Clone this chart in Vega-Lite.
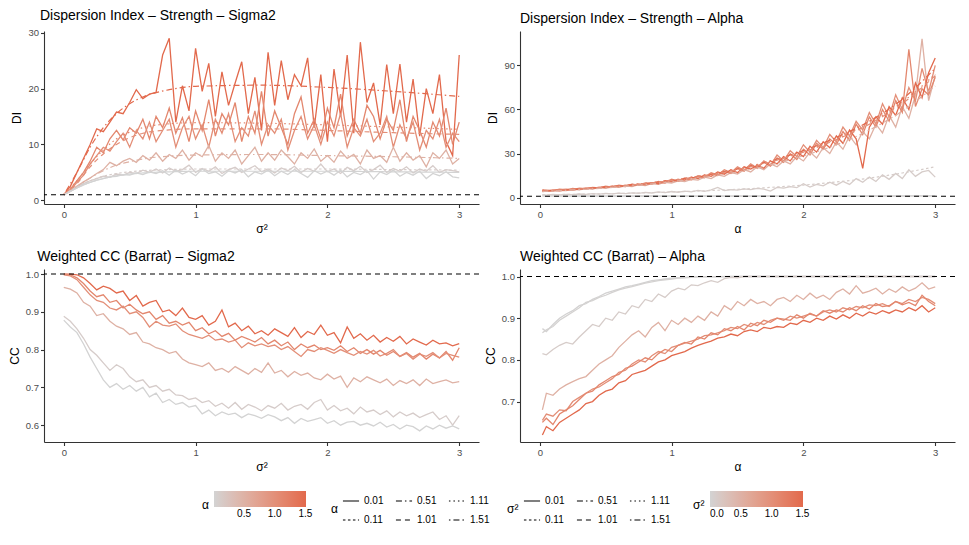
{
  "$schema": "https://vega.github.io/schema/vega-lite/v6.json",
  "padding": {"left": 8, "top": 8, "right": 12, "bottom": 10},
  "background": "white",
  "columns": 2,
  "bounds": "flush",
  "spacing": {"row": 65, "column": 41},
  "resolve": {
    "scale": {"color": "independent", "strokeDash": "independent", "x": "independent", "y": "independent"},
    "legend": {"color": "independent", "strokeDash": "independent"}
  },
  "config": {
    "font": "Liberation Sans",
    "view": {"stroke": null},
    "axis": {
      "grid": false, "domainColor": "#333333", "tickColor": "#333333", "domainWidth": 1.1, "tickWidth": 1.1,
      "tickSize": 3.5, "labelColor": "#4D4D4D", "labelFontSize": 9.5, "labelPadding": 2,
      "titleFontSize": 12, "titleFontWeight": "normal", "titleColor": "black"
    },
    "title": {"fontSize": 14, "fontWeight": "normal", "anchor": "start", "offset": 5, "color": "black"},
    "legend": {"labelFontSize": 10, "labelColor": "black", "titleFontSize": 12, "titleFontWeight": "normal", "titleColor": "black", "labelOverlap": false}
  },
  "datasets": {
    "tl": [
      {"a":1.51,"x":0,"y":1},{"a":1.51,"x":0.05,"y":2.5},{"a":1.51,"x":0.1,"y":5},{"a":1.51,"x":0.15,"y":7.5},{"a":1.51,"x":0.2,"y":10},{"a":1.51,"x":0.25,"y":12.8},{"a":1.51,"x":0.3,"y":12.3},{"a":1.51,"x":0.35,"y":14},{"a":1.51,"x":0.4,"y":15.8},{"a":1.51,"x":0.45,"y":15.5},{"a":1.51,"x":0.5,"y":17.5},{"a":1.51,"x":0.55,"y":19.8},{"a":1.51,"x":0.6,"y":18.2},{"a":1.51,"x":0.65,"y":19},{"a":1.51,"x":0.7,"y":19.3},{"a":1.51,"x":0.75,"y":26},{"a":1.51,"x":0.8,"y":29},{"a":1.51,"x":0.85,"y":14},{"a":1.51,"x":0.9,"y":20.5},{"a":1.51,"x":0.95,"y":16},{"a":1.51,"x":1,"y":27.2},{"a":1.51,"x":1.05,"y":19.5},{"a":1.51,"x":1.1,"y":24.5},{"a":1.51,"x":1.15,"y":15},{"a":1.51,"x":1.2,"y":23},{"a":1.51,"x":1.25,"y":17},{"a":1.51,"x":1.3,"y":21},{"a":1.51,"x":1.35,"y":24.8},{"a":1.51,"x":1.4,"y":15.5},{"a":1.51,"x":1.45,"y":22},{"a":1.51,"x":1.5,"y":12.5},{"a":1.51,"x":1.55,"y":26.5},{"a":1.51,"x":1.6,"y":17},{"a":1.51,"x":1.65,"y":25},{"a":1.51,"x":1.7,"y":18},{"a":1.51,"x":1.75,"y":22.5},{"a":1.51,"x":1.8,"y":20.5},{"a":1.51,"x":1.85,"y":25.5},{"a":1.51,"x":1.9,"y":13},{"a":1.51,"x":1.95,"y":22.5},{"a":1.51,"x":2,"y":10.5},{"a":1.51,"x":2.05,"y":23.5},{"a":1.51,"x":2.1,"y":15},{"a":1.51,"x":2.15,"y":26},{"a":1.51,"x":2.2,"y":12},{"a":1.51,"x":2.25,"y":28.3},{"a":1.51,"x":2.3,"y":17.5},{"a":1.51,"x":2.35,"y":21},{"a":1.51,"x":2.4,"y":13.5},{"a":1.51,"x":2.45,"y":24.3},{"a":1.51,"x":2.5,"y":15.5},{"a":1.51,"x":2.55,"y":24.4},{"a":1.51,"x":2.6,"y":14},{"a":1.51,"x":2.65,"y":21.7},{"a":1.51,"x":2.7,"y":11.5},{"a":1.51,"x":2.75,"y":20},{"a":1.51,"x":2.8,"y":15.5},{"a":1.51,"x":2.85,"y":22.5},{"a":1.51,"x":2.9,"y":10.5},{"a":1.51,"x":2.95,"y":8},{"a":1.51,"x":3,"y":26},
      {"a":1.11,"x":0,"y":1},{"a":1.11,"x":0.05,"y":2},{"a":1.11,"x":0.1,"y":3.5},{"a":1.11,"x":0.15,"y":5},{"a":1.11,"x":0.2,"y":7},{"a":1.11,"x":0.25,"y":9.5},{"a":1.11,"x":0.3,"y":8.5},{"a":1.11,"x":0.35,"y":11},{"a":1.11,"x":0.4,"y":12.5},{"a":1.11,"x":0.45,"y":10.8},{"a":1.11,"x":0.5,"y":13},{"a":1.11,"x":0.55,"y":12},{"a":1.11,"x":0.6,"y":14.5},{"a":1.11,"x":0.65,"y":11},{"a":1.11,"x":0.7,"y":15},{"a":1.11,"x":0.75,"y":13},{"a":1.11,"x":0.8,"y":16.5},{"a":1.11,"x":0.85,"y":12},{"a":1.11,"x":0.9,"y":14.8},{"a":1.11,"x":0.95,"y":10.5},{"a":1.11,"x":1,"y":16},{"a":1.11,"x":1.05,"y":12.5},{"a":1.11,"x":1.1,"y":18},{"a":1.11,"x":1.15,"y":11.5},{"a":1.11,"x":1.2,"y":15.5},{"a":1.11,"x":1.25,"y":13.5},{"a":1.11,"x":1.3,"y":17.5},{"a":1.11,"x":1.35,"y":10.5},{"a":1.11,"x":1.4,"y":15},{"a":1.11,"x":1.45,"y":12},{"a":1.11,"x":1.5,"y":19.5},{"a":1.11,"x":1.55,"y":11.5},{"a":1.11,"x":1.6,"y":16},{"a":1.11,"x":1.65,"y":13},{"a":1.11,"x":1.7,"y":10},{"a":1.11,"x":1.75,"y":15.5},{"a":1.11,"x":1.8,"y":18.5},{"a":1.11,"x":1.85,"y":12},{"a":1.11,"x":1.9,"y":14.5},{"a":1.11,"x":1.95,"y":11},{"a":1.11,"x":2,"y":16.5},{"a":1.11,"x":2.05,"y":13},{"a":1.11,"x":2.1,"y":19},{"a":1.11,"x":2.15,"y":11.5},{"a":1.11,"x":2.2,"y":14.5},{"a":1.11,"x":2.25,"y":12},{"a":1.11,"x":2.3,"y":17},{"a":1.11,"x":2.35,"y":15},{"a":1.11,"x":2.4,"y":11},{"a":1.11,"x":2.45,"y":14.5},{"a":1.11,"x":2.5,"y":12.5},{"a":1.11,"x":2.55,"y":18},{"a":1.11,"x":2.6,"y":10.5},{"a":1.11,"x":2.65,"y":15},{"a":1.11,"x":2.7,"y":12.5},{"a":1.11,"x":2.75,"y":9.5},{"a":1.11,"x":2.8,"y":14},{"a":1.11,"x":2.85,"y":11.5},{"a":1.11,"x":2.9,"y":16.5},{"a":1.11,"x":2.95,"y":10},{"a":1.11,"x":3,"y":14},
      {"a":1.01,"x":0,"y":1},{"a":1.01,"x":0.05,"y":1.8},{"a":1.01,"x":0.1,"y":3.2},{"a":1.01,"x":0.15,"y":4.5},{"a":1.01,"x":0.2,"y":6.5},{"a":1.01,"x":0.25,"y":8},{"a":1.01,"x":0.3,"y":9.5},{"a":1.01,"x":0.35,"y":8.8},{"a":1.01,"x":0.4,"y":10.5},{"a":1.01,"x":0.45,"y":12},{"a":1.01,"x":0.5,"y":9.5},{"a":1.01,"x":0.55,"y":12.5},{"a":1.01,"x":0.6,"y":11},{"a":1.01,"x":0.65,"y":14},{"a":1.01,"x":0.7,"y":10.5},{"a":1.01,"x":0.75,"y":12.5},{"a":1.01,"x":0.8,"y":14.5},{"a":1.01,"x":0.85,"y":9.5},{"a":1.01,"x":0.9,"y":13},{"a":1.01,"x":0.95,"y":15},{"a":1.01,"x":1,"y":11},{"a":1.01,"x":1.05,"y":13.5},{"a":1.01,"x":1.1,"y":9.5},{"a":1.01,"x":1.15,"y":14.5},{"a":1.01,"x":1.2,"y":12},{"a":1.01,"x":1.25,"y":15.5},{"a":1.01,"x":1.3,"y":10.5},{"a":1.01,"x":1.35,"y":13},{"a":1.01,"x":1.4,"y":11.5},{"a":1.01,"x":1.45,"y":16},{"a":1.01,"x":1.5,"y":10},{"a":1.01,"x":1.55,"y":13.5},{"a":1.01,"x":1.6,"y":12},{"a":1.01,"x":1.65,"y":14.5},{"a":1.01,"x":1.7,"y":9},{"a":1.01,"x":1.75,"y":12.5},{"a":1.01,"x":1.8,"y":15},{"a":1.01,"x":1.85,"y":11},{"a":1.01,"x":1.9,"y":13.5},{"a":1.01,"x":1.95,"y":10},{"a":1.01,"x":2,"y":14},{"a":1.01,"x":2.05,"y":11.5},{"a":1.01,"x":2.1,"y":15.5},{"a":1.01,"x":2.15,"y":9.5},{"a":1.01,"x":2.2,"y":13},{"a":1.01,"x":2.25,"y":11.5},{"a":1.01,"x":2.3,"y":14.5},{"a":1.01,"x":2.35,"y":10.5},{"a":1.01,"x":2.4,"y":12},{"a":1.01,"x":2.45,"y":15},{"a":1.01,"x":2.5,"y":9.5},{"a":1.01,"x":2.55,"y":13.5},{"a":1.01,"x":2.6,"y":11},{"a":1.01,"x":2.65,"y":14},{"a":1.01,"x":2.7,"y":9},{"a":1.01,"x":2.75,"y":12.5},{"a":1.01,"x":2.8,"y":11},{"a":1.01,"x":2.85,"y":14.5},{"a":1.01,"x":2.9,"y":9.5},{"a":1.01,"x":2.95,"y":12},{"a":1.01,"x":3,"y":10.5},
      {"a":0.51,"x":0,"y":1},{"a":0.51,"x":0.05,"y":1.6},{"a":0.51,"x":0.1,"y":2.5},{"a":0.51,"x":0.15,"y":3.3},{"a":0.51,"x":0.2,"y":4},{"a":0.51,"x":0.25,"y":4.8},{"a":0.51,"x":0.3,"y":5.5},{"a":0.51,"x":0.35,"y":6.8},{"a":0.51,"x":0.4,"y":6.2},{"a":0.51,"x":0.45,"y":7},{"a":0.51,"x":0.5,"y":7.5},{"a":0.51,"x":0.55,"y":6.8},{"a":0.51,"x":0.6,"y":8},{"a":0.51,"x":0.65,"y":7.2},{"a":0.51,"x":0.7,"y":8.5},{"a":0.51,"x":0.75,"y":7},{"a":0.51,"x":0.8,"y":8.2},{"a":0.51,"x":0.85,"y":7.5},{"a":0.51,"x":0.9,"y":9},{"a":0.51,"x":0.95,"y":7.2},{"a":0.51,"x":1,"y":8.5},{"a":0.51,"x":1.05,"y":7.8},{"a":0.51,"x":1.1,"y":9.8},{"a":0.51,"x":1.15,"y":7},{"a":0.51,"x":1.2,"y":8.5},{"a":0.51,"x":1.25,"y":7.5},{"a":0.51,"x":1.3,"y":9},{"a":0.51,"x":1.35,"y":6.5},{"a":0.51,"x":1.4,"y":8},{"a":0.51,"x":1.45,"y":9.5},{"a":0.51,"x":1.5,"y":7},{"a":0.51,"x":1.55,"y":8.5},{"a":0.51,"x":1.6,"y":7.2},{"a":0.51,"x":1.65,"y":9},{"a":0.51,"x":1.7,"y":7.8},{"a":0.51,"x":1.75,"y":6.5},{"a":0.51,"x":1.8,"y":8.5},{"a":0.51,"x":1.85,"y":7.5},{"a":0.51,"x":1.9,"y":9.2},{"a":0.51,"x":1.95,"y":7},{"a":0.51,"x":2,"y":8},{"a":0.51,"x":2.05,"y":6.8},{"a":0.51,"x":2.1,"y":8.8},{"a":0.51,"x":2.15,"y":7.5},{"a":0.51,"x":2.2,"y":8.2},{"a":0.51,"x":2.25,"y":6.5},{"a":0.51,"x":2.3,"y":9},{"a":0.51,"x":2.35,"y":7.5},{"a":0.51,"x":2.4,"y":8},{"a":0.51,"x":2.45,"y":6.8},{"a":0.51,"x":2.5,"y":9.5},{"a":0.51,"x":2.55,"y":7},{"a":0.51,"x":2.6,"y":8.5},{"a":0.51,"x":2.65,"y":7.2},{"a":0.51,"x":2.7,"y":8},{"a":0.51,"x":2.75,"y":6},{"a":0.51,"x":2.8,"y":8.5},{"a":0.51,"x":2.85,"y":7.5},{"a":0.51,"x":2.9,"y":9},{"a":0.51,"x":2.95,"y":6.5},{"a":0.51,"x":3,"y":7.5},
      {"a":0.11,"x":0,"y":1},{"a":0.11,"x":0.05,"y":1.7},{"a":0.11,"x":0.1,"y":2.4},{"a":0.11,"x":0.15,"y":3},{"a":0.11,"x":0.2,"y":3.5},{"a":0.11,"x":0.25,"y":3.9},{"a":0.11,"x":0.3,"y":4.3},{"a":0.11,"x":0.35,"y":4.1},{"a":0.11,"x":0.4,"y":4.7},{"a":0.11,"x":0.45,"y":4.5},{"a":0.11,"x":0.5,"y":5},{"a":0.11,"x":0.55,"y":4.8},{"a":0.11,"x":0.6,"y":5.4},{"a":0.11,"x":0.65,"y":5},{"a":0.11,"x":0.7,"y":5.6},{"a":0.11,"x":0.75,"y":4.9},{"a":0.11,"x":0.8,"y":5.8},{"a":0.11,"x":0.85,"y":5.2},{"a":0.11,"x":0.9,"y":5.5},{"a":0.11,"x":0.95,"y":6.3},{"a":0.11,"x":1,"y":5},{"a":0.11,"x":1.05,"y":5.7},{"a":0.11,"x":1.1,"y":5.2},{"a":0.11,"x":1.15,"y":6},{"a":0.11,"x":1.2,"y":4.8},{"a":0.11,"x":1.25,"y":5.5},{"a":0.11,"x":1.3,"y":5.9},{"a":0.11,"x":1.35,"y":5},{"a":0.11,"x":1.4,"y":5.6},{"a":0.11,"x":1.45,"y":6.2},{"a":0.11,"x":1.5,"y":5.1},{"a":0.11,"x":1.55,"y":5.6},{"a":0.11,"x":1.6,"y":4.9},{"a":0.11,"x":1.65,"y":5.8},{"a":0.11,"x":1.7,"y":5.3},{"a":0.11,"x":1.75,"y":6.1},{"a":0.11,"x":1.8,"y":5},{"a":0.11,"x":1.85,"y":5.7},{"a":0.11,"x":1.9,"y":5.2},{"a":0.11,"x":1.95,"y":6.5},{"a":0.11,"x":2,"y":5.1},{"a":0.11,"x":2.05,"y":5.6},{"a":0.11,"x":2.1,"y":4.8},{"a":0.11,"x":2.15,"y":5.9},{"a":0.11,"x":2.2,"y":5.3},{"a":0.11,"x":2.25,"y":6.1},{"a":0.11,"x":2.3,"y":5},{"a":0.11,"x":2.35,"y":5.5},{"a":0.11,"x":2.4,"y":6.3},{"a":0.11,"x":2.45,"y":5},{"a":0.11,"x":2.5,"y":5.7},{"a":0.11,"x":2.55,"y":5.2},{"a":0.11,"x":2.6,"y":6},{"a":0.11,"x":2.65,"y":4.9},{"a":0.11,"x":2.7,"y":5.6},{"a":0.11,"x":2.75,"y":5.2},{"a":0.11,"x":2.8,"y":6.2},{"a":0.11,"x":2.85,"y":5},{"a":0.11,"x":2.9,"y":5.5},{"a":0.11,"x":2.95,"y":5.3},{"a":0.11,"x":3,"y":5.1},
      {"a":0.01,"x":0,"y":1},{"a":0.01,"x":0.05,"y":1.6},{"a":0.01,"x":0.1,"y":2.2},{"a":0.01,"x":0.15,"y":2.8},{"a":0.01,"x":0.2,"y":3.2},{"a":0.01,"x":0.25,"y":3.6},{"a":0.01,"x":0.3,"y":3.9},{"a":0.01,"x":0.35,"y":4.2},{"a":0.01,"x":0.4,"y":4.3},{"a":0.01,"x":0.45,"y":4.6},{"a":0.01,"x":0.5,"y":4.5},{"a":0.01,"x":0.55,"y":4.9},{"a":0.01,"x":0.6,"y":4.6},{"a":0.01,"x":0.65,"y":5.1},{"a":0.01,"x":0.7,"y":4.8},{"a":0.01,"x":0.75,"y":5.3},{"a":0.01,"x":0.8,"y":4.5},{"a":0.01,"x":0.85,"y":5.4},{"a":0.01,"x":0.9,"y":4.7},{"a":0.01,"x":0.95,"y":5.2},{"a":0.01,"x":1,"y":4.4},{"a":0.01,"x":1.05,"y":5.6},{"a":0.01,"x":1.1,"y":4.8},{"a":0.01,"x":1.15,"y":5.1},{"a":0.01,"x":1.2,"y":4.3},{"a":0.01,"x":1.25,"y":5.3},{"a":0.01,"x":1.3,"y":4.9},{"a":0.01,"x":1.35,"y":5.5},{"a":0.01,"x":1.4,"y":4.2},{"a":0.01,"x":1.45,"y":5.1},{"a":0.01,"x":1.5,"y":4.7},{"a":0.01,"x":1.55,"y":5.4},{"a":0.01,"x":1.6,"y":4.4},{"a":0.01,"x":1.65,"y":5.2},{"a":0.01,"x":1.7,"y":4.6},{"a":0.01,"x":1.75,"y":5.5},{"a":0.01,"x":1.8,"y":4.8},{"a":0.01,"x":1.85,"y":4.1},{"a":0.01,"x":1.9,"y":5.3},{"a":0.01,"x":1.95,"y":4.7},{"a":0.01,"x":2,"y":5.2},{"a":0.01,"x":2.05,"y":4.5},{"a":0.01,"x":2.1,"y":5.4},{"a":0.01,"x":2.15,"y":4.2},{"a":0.01,"x":2.2,"y":5},{"a":0.01,"x":2.25,"y":4.6},{"a":0.01,"x":2.3,"y":5.3},{"a":0.01,"x":2.35,"y":3.8},{"a":0.01,"x":2.4,"y":5.1},{"a":0.01,"x":2.45,"y":4.6},{"a":0.01,"x":2.5,"y":5.4},{"a":0.01,"x":2.55,"y":4.3},{"a":0.01,"x":2.6,"y":5},{"a":0.01,"x":2.65,"y":4.5},{"a":0.01,"x":2.7,"y":5.2},{"a":0.01,"x":2.75,"y":3.9},{"a":0.01,"x":2.8,"y":4.8},{"a":0.01,"x":2.85,"y":4.4},{"a":0.01,"x":2.9,"y":5.1},{"a":0.01,"x":2.95,"y":4.2},{"a":0.01,"x":3,"y":4}
    ],
    "tls": [
      {"a":1.51,"k":"1.51","x":0,"y":1},{"a":1.51,"k":"1.51","x":0.1,"y":5},{"a":1.51,"k":"1.51","x":0.2,"y":9.5},{"a":1.51,"k":"1.51","x":0.3,"y":13},{"a":1.51,"k":"1.51","x":0.4,"y":15.5},{"a":1.51,"k":"1.51","x":0.5,"y":17.3},{"a":1.51,"k":"1.51","x":0.6,"y":18.5},{"a":1.51,"k":"1.51","x":0.8,"y":19.8},{"a":1.51,"k":"1.51","x":1,"y":20.4},{"a":1.51,"k":"1.51","x":1.5,"y":20.6},{"a":1.51,"k":"1.51","x":2,"y":20.2},{"a":1.51,"k":"1.51","x":2.5,"y":19.5},{"a":1.51,"k":"1.51","x":3,"y":18.6},
      {"a":1.11,"k":"1.11","x":0,"y":1},{"a":1.11,"k":"1.11","x":0.1,"y":3.5},{"a":1.11,"k":"1.11","x":0.2,"y":6.5},{"a":1.11,"k":"1.11","x":0.3,"y":9},{"a":1.11,"k":"1.11","x":0.4,"y":11},{"a":1.11,"k":"1.11","x":0.5,"y":12.2},{"a":1.11,"k":"1.11","x":0.6,"y":13},{"a":1.11,"k":"1.11","x":0.8,"y":13.7},{"a":1.11,"k":"1.11","x":1,"y":13.9},{"a":1.11,"k":"1.11","x":1.5,"y":13.8},{"a":1.11,"k":"1.11","x":2,"y":13.5},{"a":1.11,"k":"1.11","x":2.5,"y":13.1},{"a":1.11,"k":"1.11","x":3,"y":12.7},
      {"a":1.01,"k":"1.01","x":0,"y":1},{"a":1.01,"k":"1.01","x":0.1,"y":3},{"a":1.01,"k":"1.01","x":0.2,"y":6},{"a":1.01,"k":"1.01","x":0.3,"y":8.3},{"a":1.01,"k":"1.01","x":0.4,"y":10},{"a":1.01,"k":"1.01","x":0.5,"y":11.2},{"a":1.01,"k":"1.01","x":0.6,"y":12},{"a":1.01,"k":"1.01","x":0.8,"y":12.6},{"a":1.01,"k":"1.01","x":1,"y":12.8},{"a":1.01,"k":"1.01","x":1.5,"y":12.8},{"a":1.01,"k":"1.01","x":2,"y":12.5},{"a":1.01,"k":"1.01","x":2.5,"y":12.1},{"a":1.01,"k":"1.01","x":3,"y":11.8},
      {"a":0.51,"k":"0.51","x":0,"y":1},{"a":0.51,"k":"0.51","x":0.1,"y":2.5},{"a":0.51,"k":"0.51","x":0.2,"y":4},{"a":0.51,"k":"0.51","x":0.3,"y":5.3},{"a":0.51,"k":"0.51","x":0.4,"y":6.3},{"a":0.51,"k":"0.51","x":0.5,"y":6.9},{"a":0.51,"k":"0.51","x":0.6,"y":7.4},{"a":0.51,"k":"0.51","x":0.8,"y":7.9},{"a":0.51,"k":"0.51","x":1,"y":8.1},{"a":0.51,"k":"0.51","x":1.5,"y":8.2},{"a":0.51,"k":"0.51","x":2,"y":8},{"a":0.51,"k":"0.51","x":2.5,"y":7.8},{"a":0.51,"k":"0.51","x":3,"y":7.5},
      {"a":0.11,"k":"0.11","x":0,"y":1},{"a":0.11,"k":"0.11","x":0.1,"y":2.4},{"a":0.11,"k":"0.11","x":0.2,"y":3.5},{"a":0.11,"k":"0.11","x":0.3,"y":4.3},{"a":0.11,"k":"0.11","x":0.4,"y":4.8},{"a":0.11,"k":"0.11","x":0.5,"y":5.1},{"a":0.11,"k":"0.11","x":0.6,"y":5.3},{"a":0.11,"k":"0.11","x":0.8,"y":5.5},{"a":0.11,"k":"0.11","x":1,"y":5.6},{"a":0.11,"k":"0.11","x":1.5,"y":5.6},{"a":0.11,"k":"0.11","x":2,"y":5.6},{"a":0.11,"k":"0.11","x":2.5,"y":5.5},{"a":0.11,"k":"0.11","x":3,"y":5.4},
      {"a":0.01,"k":"0.01","x":0,"y":1},{"a":0.01,"k":"0.01","x":0.1,"y":2.2},{"a":0.01,"k":"0.01","x":0.2,"y":3.2},{"a":0.01,"k":"0.01","x":0.3,"y":3.9},{"a":0.01,"k":"0.01","x":0.4,"y":4.4},{"a":0.01,"k":"0.01","x":0.5,"y":4.7},{"a":0.01,"k":"0.01","x":0.6,"y":4.9},{"a":0.01,"k":"0.01","x":0.8,"y":5.1},{"a":0.01,"k":"0.01","x":1,"y":5.2},{"a":0.01,"k":"0.01","x":1.5,"y":5.2},{"a":0.01,"k":"0.01","x":2,"y":5.2},{"a":0.01,"k":"0.01","x":2.5,"y":5.1},{"a":0.01,"k":"0.01","x":3,"y":5}
    ],
    "tr": [
      {"a":0.01,"x":0.02,"y":1.3},{"a":0.01,"x":0.05,"y":1.2},{"a":0.01,"x":0.1,"y":1.25},{"a":0.01,"x":0.15,"y":1.15},{"a":0.01,"x":0.2,"y":1.2},{"a":0.01,"x":0.25,"y":1.1},{"a":0.01,"x":0.3,"y":1.2},{"a":0.01,"x":0.35,"y":1.15},{"a":0.01,"x":0.4,"y":1.1},{"a":0.01,"x":0.45,"y":1.2},{"a":0.01,"x":0.5,"y":1.1},{"a":0.01,"x":0.55,"y":1.15},{"a":0.01,"x":0.6,"y":1.05},{"a":0.01,"x":0.65,"y":1.15},{"a":0.01,"x":0.7,"y":1.1},{"a":0.01,"x":0.75,"y":1.2},{"a":0.01,"x":0.8,"y":1.1},{"a":0.01,"x":0.85,"y":1.15},{"a":0.01,"x":0.9,"y":1.05},{"a":0.01,"x":0.95,"y":1.1},{"a":0.01,"x":1,"y":1.2},{"a":0.01,"x":1.05,"y":1.1},{"a":0.01,"x":1.1,"y":1.15},{"a":0.01,"x":1.15,"y":1.05},{"a":0.01,"x":1.2,"y":1.1},{"a":0.01,"x":1.25,"y":1.2},{"a":0.01,"x":1.3,"y":1.1},{"a":0.01,"x":1.35,"y":1.15},{"a":0.01,"x":1.4,"y":1.05},{"a":0.01,"x":1.45,"y":1.1},{"a":0.01,"x":1.5,"y":1.2},{"a":0.01,"x":1.55,"y":1.1},{"a":0.01,"x":1.6,"y":1.05},{"a":0.01,"x":1.65,"y":1.15},{"a":0.01,"x":1.7,"y":1.1},{"a":0.01,"x":1.75,"y":1.2},{"a":0.01,"x":1.8,"y":1.1},{"a":0.01,"x":1.85,"y":1.05},{"a":0.01,"x":1.9,"y":1.15},{"a":0.01,"x":1.95,"y":1.1},{"a":0.01,"x":2,"y":1.2},{"a":0.01,"x":2.05,"y":1.1},{"a":0.01,"x":2.1,"y":1.15},{"a":0.01,"x":2.15,"y":1.05},{"a":0.01,"x":2.2,"y":1.1},{"a":0.01,"x":2.25,"y":1.2},{"a":0.01,"x":2.3,"y":1.1},{"a":0.01,"x":2.35,"y":1.15},{"a":0.01,"x":2.4,"y":1.05},{"a":0.01,"x":2.45,"y":1.1},{"a":0.01,"x":2.5,"y":1.2},{"a":0.01,"x":2.55,"y":1.15},{"a":0.01,"x":2.6,"y":1.1},{"a":0.01,"x":2.65,"y":1.2},{"a":0.01,"x":2.7,"y":1.1},{"a":0.01,"x":2.75,"y":1.25},{"a":0.01,"x":2.8,"y":1.15},{"a":0.01,"x":2.85,"y":1.3},{"a":0.01,"x":2.9,"y":1.2},{"a":0.01,"x":2.95,"y":1.35},{"a":0.01,"x":3,"y":1.3},
      {"a":0.11,"x":0.02,"y":2},{"a":0.11,"x":0.05,"y":1.8},{"a":0.11,"x":0.1,"y":2.2},{"a":0.11,"x":0.15,"y":1.9},{"a":0.11,"x":0.2,"y":2.3},{"a":0.11,"x":0.25,"y":2.1},{"a":0.11,"x":0.3,"y":2.5},{"a":0.11,"x":0.35,"y":2.2},{"a":0.11,"x":0.4,"y":2.7},{"a":0.11,"x":0.45,"y":2.4},{"a":0.11,"x":0.5,"y":2.9},{"a":0.11,"x":0.55,"y":2.6},{"a":0.11,"x":0.6,"y":3.1},{"a":0.11,"x":0.65,"y":2.8},{"a":0.11,"x":0.7,"y":3.3},{"a":0.11,"x":0.75,"y":3},{"a":0.11,"x":0.8,"y":3.6},{"a":0.11,"x":0.85,"y":3.2},{"a":0.11,"x":0.9,"y":3.9},{"a":0.11,"x":0.95,"y":3.4},{"a":0.11,"x":1,"y":4.2},{"a":0.11,"x":1.05,"y":3.7},{"a":0.11,"x":1.1,"y":4.5},{"a":0.11,"x":1.15,"y":4},{"a":0.11,"x":1.2,"y":4.9},{"a":0.11,"x":1.25,"y":4.3},{"a":0.11,"x":1.3,"y":5.3},{"a":0.11,"x":1.35,"y":7},{"a":0.11,"x":1.4,"y":4.8},{"a":0.11,"x":1.45,"y":5.5},{"a":0.11,"x":1.5,"y":5.2},{"a":0.11,"x":1.55,"y":6},{"a":0.11,"x":1.6,"y":5.5},{"a":0.11,"x":1.65,"y":6.3},{"a":0.11,"x":1.7,"y":5.8},{"a":0.11,"x":1.75,"y":4.5},{"a":0.11,"x":1.8,"y":7},{"a":0.11,"x":1.85,"y":6.5},{"a":0.11,"x":1.9,"y":7.5},{"a":0.11,"x":1.95,"y":6.8},{"a":0.11,"x":2,"y":9.5},{"a":0.11,"x":2.05,"y":7.2},{"a":0.11,"x":2.1,"y":9},{"a":0.11,"x":2.15,"y":8},{"a":0.11,"x":2.2,"y":10.5},{"a":0.11,"x":2.25,"y":8.5},{"a":0.11,"x":2.3,"y":11},{"a":0.11,"x":2.35,"y":9},{"a":0.11,"x":2.4,"y":13},{"a":0.11,"x":2.45,"y":10.5},{"a":0.11,"x":2.5,"y":14},{"a":0.11,"x":2.55,"y":11},{"a":0.11,"x":2.6,"y":15.5},{"a":0.11,"x":2.65,"y":12.5},{"a":0.11,"x":2.7,"y":16.5},{"a":0.11,"x":2.75,"y":13},{"a":0.11,"x":2.8,"y":19},{"a":0.11,"x":2.85,"y":14.5},{"a":0.11,"x":2.9,"y":17.5},{"a":0.11,"x":2.95,"y":18.5},{"a":0.11,"x":3,"y":14},
      {"a":0.51,"x":0.02,"y":4},{"a":0.51,"x":0.05,"y":4.6},{"a":0.51,"x":0.1,"y":4.3},{"a":0.51,"x":0.15,"y":5},{"a":0.51,"x":0.2,"y":4.8},{"a":0.51,"x":0.25,"y":5.6},{"a":0.51,"x":0.3,"y":5.3},{"a":0.51,"x":0.35,"y":6.2},{"a":0.51,"x":0.4,"y":5.8},{"a":0.51,"x":0.45,"y":6.8},{"a":0.51,"x":0.5,"y":6.4},{"a":0.51,"x":0.55,"y":7.4},{"a":0.51,"x":0.6,"y":7},{"a":0.51,"x":0.65,"y":8},{"a":0.51,"x":0.7,"y":7.6},{"a":0.51,"x":0.75,"y":8.8},{"a":0.51,"x":0.8,"y":8.3},{"a":0.51,"x":0.85,"y":9.6},{"a":0.51,"x":0.9,"y":9},{"a":0.51,"x":0.95,"y":10.5},{"a":0.51,"x":1,"y":10},{"a":0.51,"x":1.05,"y":11.5},{"a":0.51,"x":1.1,"y":11},{"a":0.51,"x":1.15,"y":12.5},{"a":0.51,"x":1.2,"y":12},{"a":0.51,"x":1.25,"y":14},{"a":0.51,"x":1.3,"y":13},{"a":0.51,"x":1.35,"y":15.5},{"a":0.51,"x":1.4,"y":14.5},{"a":0.51,"x":1.45,"y":17},{"a":0.51,"x":1.5,"y":16},{"a":0.51,"x":1.55,"y":19},{"a":0.51,"x":1.6,"y":17.5},{"a":0.51,"x":1.65,"y":21},{"a":0.51,"x":1.7,"y":19},{"a":0.51,"x":1.75,"y":23},{"a":0.51,"x":1.8,"y":21},{"a":0.51,"x":1.85,"y":25},{"a":0.51,"x":1.9,"y":23},{"a":0.51,"x":1.95,"y":28},{"a":0.51,"x":2,"y":25},{"a":0.51,"x":2.05,"y":31},{"a":0.51,"x":2.1,"y":27},{"a":0.51,"x":2.15,"y":34},{"a":0.51,"x":2.2,"y":30},{"a":0.51,"x":2.25,"y":38},{"a":0.51,"x":2.3,"y":33},{"a":0.51,"x":2.35,"y":42},{"a":0.51,"x":2.4,"y":36},{"a":0.51,"x":2.45,"y":45},{"a":0.51,"x":2.5,"y":40},{"a":0.51,"x":2.55,"y":50},{"a":0.51,"x":2.6,"y":44},{"a":0.51,"x":2.65,"y":56},{"a":0.51,"x":2.7,"y":48},{"a":0.51,"x":2.75,"y":62},{"a":0.51,"x":2.8,"y":54},{"a":0.51,"x":2.85,"y":70},{"a":0.51,"x":2.9,"y":108},{"a":0.51,"x":2.95,"y":66},{"a":0.51,"x":3,"y":83},
      {"a":1.01,"x":0.02,"y":4.5},{"a":1.01,"x":0.05,"y":5.2},{"a":1.01,"x":0.1,"y":5},{"a":1.01,"x":0.15,"y":5.5},{"a":1.01,"x":0.2,"y":5.8},{"a":1.01,"x":0.25,"y":5.4},{"a":1.01,"x":0.3,"y":6.5},{"a":1.01,"x":0.35,"y":6.2},{"a":1.01,"x":0.4,"y":7},{"a":1.01,"x":0.45,"y":6.6},{"a":1.01,"x":0.5,"y":7.8},{"a":1.01,"x":0.55,"y":7.2},{"a":1.01,"x":0.6,"y":8.5},{"a":1.01,"x":0.65,"y":7.8},{"a":1.01,"x":0.7,"y":9.2},{"a":1.01,"x":0.75,"y":8.6},{"a":1.01,"x":0.8,"y":10},{"a":1.01,"x":0.85,"y":9.3},{"a":1.01,"x":0.9,"y":11},{"a":1.01,"x":0.95,"y":10.2},{"a":1.01,"x":1,"y":12.5},{"a":1.01,"x":1.05,"y":11.5},{"a":1.01,"x":1.1,"y":13.5},{"a":1.01,"x":1.15,"y":12.5},{"a":1.01,"x":1.2,"y":15},{"a":1.01,"x":1.25,"y":14},{"a":1.01,"x":1.3,"y":17},{"a":1.01,"x":1.35,"y":15.5},{"a":1.01,"x":1.4,"y":19},{"a":1.01,"x":1.45,"y":17},{"a":1.01,"x":1.5,"y":21},{"a":1.01,"x":1.55,"y":18.5},{"a":1.01,"x":1.6,"y":23},{"a":1.01,"x":1.65,"y":20},{"a":1.01,"x":1.7,"y":25},{"a":1.01,"x":1.75,"y":22},{"a":1.01,"x":1.8,"y":29},{"a":1.01,"x":1.85,"y":25},{"a":1.01,"x":1.9,"y":32},{"a":1.01,"x":1.95,"y":28},{"a":1.01,"x":2,"y":36},{"a":1.01,"x":2.05,"y":31},{"a":1.01,"x":2.1,"y":39},{"a":1.01,"x":2.15,"y":34},{"a":1.01,"x":2.2,"y":43},{"a":1.01,"x":2.25,"y":38},{"a":1.01,"x":2.3,"y":48},{"a":1.01,"x":2.35,"y":42},{"a":1.01,"x":2.4,"y":52},{"a":1.01,"x":2.45,"y":46},{"a":1.01,"x":2.5,"y":58},{"a":1.01,"x":2.55,"y":50},{"a":1.01,"x":2.6,"y":64},{"a":1.01,"x":2.65,"y":55},{"a":1.01,"x":2.7,"y":70},{"a":1.01,"x":2.75,"y":60},{"a":1.01,"x":2.8,"y":75},{"a":1.01,"x":2.85,"y":66},{"a":1.01,"x":2.9,"y":88},{"a":1.01,"x":2.95,"y":72},{"a":1.01,"x":3,"y":90},
      {"a":1.11,"x":0.02,"y":5.5},{"a":1.11,"x":0.05,"y":5},{"a":1.11,"x":0.1,"y":4.8},{"a":1.11,"x":0.15,"y":5.8},{"a":1.11,"x":0.2,"y":5.2},{"a":1.11,"x":0.25,"y":6.3},{"a":1.11,"x":0.3,"y":5.6},{"a":1.11,"x":0.35,"y":6.6},{"a":1.11,"x":0.4,"y":6.2},{"a":1.11,"x":0.45,"y":7.2},{"a":1.11,"x":0.5,"y":6.8},{"a":1.11,"x":0.55,"y":8},{"a":1.11,"x":0.6,"y":7.3},{"a":1.11,"x":0.65,"y":8.5},{"a":1.11,"x":0.7,"y":8},{"a":1.11,"x":0.75,"y":9.3},{"a":1.11,"x":0.8,"y":8.8},{"a":1.11,"x":0.85,"y":9.5},{"a":1.11,"x":0.9,"y":10.5},{"a":1.11,"x":0.95,"y":10},{"a":1.11,"x":1,"y":12},{"a":1.11,"x":1.05,"y":11.2},{"a":1.11,"x":1.1,"y":13},{"a":1.11,"x":1.15,"y":12.2},{"a":1.11,"x":1.2,"y":14.5},{"a":1.11,"x":1.25,"y":13.5},{"a":1.11,"x":1.3,"y":16},{"a":1.11,"x":1.35,"y":15},{"a":1.11,"x":1.4,"y":18},{"a":1.11,"x":1.45,"y":16.5},{"a":1.11,"x":1.5,"y":20},{"a":1.11,"x":1.55,"y":18},{"a":1.11,"x":1.6,"y":22},{"a":1.11,"x":1.65,"y":20.5},{"a":1.11,"x":1.7,"y":24},{"a":1.11,"x":1.75,"y":21.5},{"a":1.11,"x":1.8,"y":27},{"a":1.11,"x":1.85,"y":24},{"a":1.11,"x":1.9,"y":30},{"a":1.11,"x":1.95,"y":26},{"a":1.11,"x":2,"y":33},{"a":1.11,"x":2.05,"y":29},{"a":1.11,"x":2.1,"y":37},{"a":1.11,"x":2.15,"y":33},{"a":1.11,"x":2.2,"y":40},{"a":1.11,"x":2.25,"y":36},{"a":1.11,"x":2.3,"y":45},{"a":1.11,"x":2.35,"y":39},{"a":1.11,"x":2.4,"y":50},{"a":1.11,"x":2.45,"y":43},{"a":1.11,"x":2.5,"y":55},{"a":1.11,"x":2.55,"y":48},{"a":1.11,"x":2.6,"y":60},{"a":1.11,"x":2.65,"y":52},{"a":1.11,"x":2.7,"y":66},{"a":1.11,"x":2.75,"y":58},{"a":1.11,"x":2.8,"y":101},{"a":1.11,"x":2.85,"y":62},{"a":1.11,"x":2.9,"y":74},{"a":1.11,"x":2.95,"y":70},{"a":1.11,"x":3,"y":82},
      {"a":1.51,"x":0.02,"y":5},{"a":1.51,"x":0.05,"y":4.5},{"a":1.51,"x":0.1,"y":5.2},{"a":1.51,"x":0.15,"y":4.6},{"a":1.51,"x":0.2,"y":5.5},{"a":1.51,"x":0.25,"y":5.2},{"a":1.51,"x":0.3,"y":6},{"a":1.51,"x":0.35,"y":5.8},{"a":1.51,"x":0.4,"y":6.8},{"a":1.51,"x":0.45,"y":6.5},{"a":1.51,"x":0.5,"y":7.5},{"a":1.51,"x":0.55,"y":7},{"a":1.51,"x":0.6,"y":8.2},{"a":1.51,"x":0.65,"y":7.6},{"a":1.51,"x":0.7,"y":9},{"a":1.51,"x":0.75,"y":8.5},{"a":1.51,"x":0.8,"y":9.5},{"a":1.51,"x":0.85,"y":10.2},{"a":1.51,"x":0.9,"y":9.5},{"a":1.51,"x":0.95,"y":11.5},{"a":1.51,"x":1,"y":11},{"a":1.51,"x":1.05,"y":12.5},{"a":1.51,"x":1.1,"y":12},{"a":1.51,"x":1.15,"y":14},{"a":1.51,"x":1.2,"y":13},{"a":1.51,"x":1.25,"y":15.5},{"a":1.51,"x":1.3,"y":14.5},{"a":1.51,"x":1.35,"y":17.5},{"a":1.51,"x":1.4,"y":16},{"a":1.51,"x":1.45,"y":19},{"a":1.51,"x":1.5,"y":17},{"a":1.51,"x":1.55,"y":21},{"a":1.51,"x":1.6,"y":19.5},{"a":1.51,"x":1.65,"y":22},{"a":1.51,"x":1.7,"y":20},{"a":1.51,"x":1.75,"y":25},{"a":1.51,"x":1.8,"y":23},{"a":1.51,"x":1.85,"y":28},{"a":1.51,"x":1.9,"y":25},{"a":1.51,"x":1.95,"y":31},{"a":1.51,"x":2,"y":28},{"a":1.51,"x":2.05,"y":35},{"a":1.51,"x":2.1,"y":31},{"a":1.51,"x":2.15,"y":38},{"a":1.51,"x":2.2,"y":34},{"a":1.51,"x":2.25,"y":42},{"a":1.51,"x":2.3,"y":37},{"a":1.51,"x":2.35,"y":46},{"a":1.51,"x":2.4,"y":40},{"a":1.51,"x":2.45,"y":20},{"a":1.51,"x":2.5,"y":48},{"a":1.51,"x":2.55,"y":55},{"a":1.51,"x":2.6,"y":50},{"a":1.51,"x":2.65,"y":62},{"a":1.51,"x":2.7,"y":56},{"a":1.51,"x":2.75,"y":68},{"a":1.51,"x":2.8,"y":60},{"a":1.51,"x":2.85,"y":78},{"a":1.51,"x":2.9,"y":68},{"a":1.51,"x":2.95,"y":85},{"a":1.51,"x":3,"y":95}
    ],
    "trs": [
      {"a":1.51,"k":"1.51","x":0.02,"y":4.5},{"a":1.51,"k":"1.51","x":0.25,"y":5.6},{"a":1.51,"k":"1.51","x":0.5,"y":7.2},{"a":1.51,"k":"1.51","x":0.75,"y":9.2},{"a":1.51,"k":"1.51","x":1,"y":11.8},{"a":1.51,"k":"1.51","x":1.25,"y":15.2},{"a":1.51,"k":"1.51","x":1.5,"y":19.5},{"a":1.51,"k":"1.51","x":1.75,"y":25},{"a":1.51,"k":"1.51","x":2,"y":32},{"a":1.51,"k":"1.51","x":2.25,"y":41},{"a":1.51,"k":"1.51","x":2.5,"y":52},{"a":1.51,"k":"1.51","x":2.75,"y":67},{"a":1.51,"k":"1.51","x":3,"y":88},
      {"a":1.11,"k":"1.11","x":0.02,"y":4.6},{"a":1.11,"k":"1.11","x":0.25,"y":5.7},{"a":1.11,"k":"1.11","x":0.5,"y":7.3},{"a":1.11,"k":"1.11","x":0.75,"y":9.3},{"a":1.11,"k":"1.11","x":1,"y":11.9},{"a":1.11,"k":"1.11","x":1.25,"y":15.2},{"a":1.11,"k":"1.11","x":1.5,"y":19.4},{"a":1.11,"k":"1.11","x":1.75,"y":24.8},{"a":1.11,"k":"1.11","x":2,"y":31.5},{"a":1.11,"k":"1.11","x":2.25,"y":40},{"a":1.11,"k":"1.11","x":2.5,"y":51},{"a":1.11,"k":"1.11","x":2.75,"y":65},{"a":1.11,"k":"1.11","x":3,"y":84},
      {"a":1.01,"k":"1.01","x":0.02,"y":4.5},{"a":1.01,"k":"1.01","x":0.25,"y":5.6},{"a":1.01,"k":"1.01","x":0.5,"y":7.1},{"a":1.01,"k":"1.01","x":0.75,"y":9.1},{"a":1.01,"k":"1.01","x":1,"y":11.6},{"a":1.01,"k":"1.01","x":1.25,"y":14.9},{"a":1.01,"k":"1.01","x":1.5,"y":19},{"a":1.01,"k":"1.01","x":1.75,"y":24.3},{"a":1.01,"k":"1.01","x":2,"y":31},{"a":1.01,"k":"1.01","x":2.25,"y":39.5},{"a":1.01,"k":"1.01","x":2.5,"y":50},{"a":1.01,"k":"1.01","x":2.75,"y":64},{"a":1.01,"k":"1.01","x":3,"y":83},
      {"a":0.51,"k":"0.51","x":0.02,"y":4.2},{"a":0.51,"k":"0.51","x":0.25,"y":5.2},{"a":0.51,"k":"0.51","x":0.5,"y":6.6},{"a":0.51,"k":"0.51","x":0.75,"y":8.5},{"a":0.51,"k":"0.51","x":1,"y":10.8},{"a":0.51,"k":"0.51","x":1.25,"y":13.8},{"a":0.51,"k":"0.51","x":1.5,"y":17.5},{"a":0.51,"k":"0.51","x":1.75,"y":22.3},{"a":0.51,"k":"0.51","x":2,"y":28.5},{"a":0.51,"k":"0.51","x":2.25,"y":36},{"a":0.51,"k":"0.51","x":2.5,"y":46},{"a":0.51,"k":"0.51","x":2.75,"y":59},{"a":0.51,"k":"0.51","x":3,"y":76},
      {"a":0.11,"k":"0.11","x":0.02,"y":2},{"a":0.11,"k":"0.11","x":0.25,"y":2.3},{"a":0.11,"k":"0.11","x":0.5,"y":2.7},{"a":0.11,"k":"0.11","x":0.75,"y":3.2},{"a":0.11,"k":"0.11","x":1,"y":3.9},{"a":0.11,"k":"0.11","x":1.25,"y":4.7},{"a":0.11,"k":"0.11","x":1.5,"y":5.7},{"a":0.11,"k":"0.11","x":1.75,"y":7},{"a":0.11,"k":"0.11","x":2,"y":8.6},{"a":0.11,"k":"0.11","x":2.25,"y":10.7},{"a":0.11,"k":"0.11","x":2.5,"y":13.3},{"a":0.11,"k":"0.11","x":2.75,"y":16.8},{"a":0.11,"k":"0.11","x":3,"y":21},
      {"a":0.01,"k":"0.01","x":0.02,"y":1.15},{"a":0.01,"k":"0.01","x":0.5,"y":1.1},{"a":0.01,"k":"0.01","x":1,"y":1.1},{"a":0.01,"k":"0.01","x":1.5,"y":1.1},{"a":0.01,"k":"0.01","x":2,"y":1.12},{"a":0.01,"k":"0.01","x":2.5,"y":1.15},{"a":0.01,"k":"0.01","x":3,"y":1.2}
    ],
    "bl": [
      {"a":1.51,"x":0,"y":1},{"a":1.51,"x":0.05,"y":1},{"a":1.51,"x":0.1,"y":0.998},{"a":1.51,"x":0.15,"y":0.99},{"a":1.51,"x":0.2,"y":0.975},{"a":1.51,"x":0.25,"y":0.958},{"a":1.51,"x":0.3,"y":0.968},{"a":1.51,"x":0.35,"y":0.962},{"a":1.51,"x":0.4,"y":0.95},{"a":1.51,"x":0.45,"y":0.955},{"a":1.51,"x":0.5,"y":0.93},{"a":1.51,"x":0.55,"y":0.943},{"a":1.51,"x":0.6,"y":0.915},{"a":1.51,"x":0.65,"y":0.925},{"a":1.51,"x":0.7,"y":0.93},{"a":1.51,"x":0.75,"y":0.9},{"a":1.51,"x":0.8,"y":0.905},{"a":1.51,"x":0.85,"y":0.89},{"a":1.51,"x":0.9,"y":0.91},{"a":1.51,"x":0.95,"y":0.885},{"a":1.51,"x":1,"y":0.88},{"a":1.51,"x":1.05,"y":0.89},{"a":1.51,"x":1.1,"y":0.865},{"a":1.51,"x":1.15,"y":0.875},{"a":1.51,"x":1.2,"y":0.905},{"a":1.51,"x":1.25,"y":0.86},{"a":1.51,"x":1.3,"y":0.87},{"a":1.51,"x":1.35,"y":0.85},{"a":1.51,"x":1.4,"y":0.862},{"a":1.51,"x":1.45,"y":0.842},{"a":1.51,"x":1.5,"y":0.85},{"a":1.51,"x":1.55,"y":0.838},{"a":1.51,"x":1.6,"y":0.855},{"a":1.51,"x":1.65,"y":0.845},{"a":1.51,"x":1.7,"y":0.835},{"a":1.51,"x":1.75,"y":0.858},{"a":1.51,"x":1.8,"y":0.832},{"a":1.51,"x":1.85,"y":0.848},{"a":1.51,"x":1.9,"y":0.84},{"a":1.51,"x":1.95,"y":0.865},{"a":1.51,"x":2,"y":0.838},{"a":1.51,"x":2.05,"y":0.845},{"a":1.51,"x":2.1,"y":0.818},{"a":1.51,"x":2.15,"y":0.86},{"a":1.51,"x":2.2,"y":0.83},{"a":1.51,"x":2.25,"y":0.842},{"a":1.51,"x":2.3,"y":0.825},{"a":1.51,"x":2.35,"y":0.838},{"a":1.51,"x":2.4,"y":0.82},{"a":1.51,"x":2.45,"y":0.832},{"a":1.51,"x":2.5,"y":0.822},{"a":1.51,"x":2.55,"y":0.835},{"a":1.51,"x":2.6,"y":0.815},{"a":1.51,"x":2.65,"y":0.828},{"a":1.51,"x":2.7,"y":0.82},{"a":1.51,"x":2.75,"y":0.812},{"a":1.51,"x":2.8,"y":0.825},{"a":1.51,"x":2.85,"y":0.815},{"a":1.51,"x":2.9,"y":0.818},{"a":1.51,"x":2.95,"y":0.81},{"a":1.51,"x":3,"y":0.816},
      {"a":1.11,"x":0,"y":1},{"a":1.11,"x":0.05,"y":0.998},{"a":1.11,"x":0.1,"y":0.99},{"a":1.11,"x":0.15,"y":0.975},{"a":1.11,"x":0.2,"y":0.955},{"a":1.11,"x":0.25,"y":0.94},{"a":1.11,"x":0.3,"y":0.945},{"a":1.11,"x":0.35,"y":0.925},{"a":1.11,"x":0.4,"y":0.93},{"a":1.11,"x":0.45,"y":0.91},{"a":1.11,"x":0.5,"y":0.92},{"a":1.11,"x":0.55,"y":0.905},{"a":1.11,"x":0.6,"y":0.895},{"a":1.11,"x":0.65,"y":0.9},{"a":1.11,"x":0.7,"y":0.88},{"a":1.11,"x":0.75,"y":0.89},{"a":1.11,"x":0.8,"y":0.87},{"a":1.11,"x":0.85,"y":0.875},{"a":1.11,"x":0.9,"y":0.865},{"a":1.11,"x":0.95,"y":0.872},{"a":1.11,"x":1,"y":0.85},{"a":1.11,"x":1.05,"y":0.858},{"a":1.11,"x":1.1,"y":0.842},{"a":1.11,"x":1.15,"y":0.85},{"a":1.11,"x":1.2,"y":0.835},{"a":1.11,"x":1.25,"y":0.843},{"a":1.11,"x":1.3,"y":0.825},{"a":1.11,"x":1.35,"y":0.835},{"a":1.11,"x":1.4,"y":0.828},{"a":1.11,"x":1.45,"y":0.82},{"a":1.11,"x":1.5,"y":0.832},{"a":1.11,"x":1.55,"y":0.815},{"a":1.11,"x":1.6,"y":0.825},{"a":1.11,"x":1.65,"y":0.81},{"a":1.11,"x":1.7,"y":0.82},{"a":1.11,"x":1.75,"y":0.8},{"a":1.11,"x":1.8,"y":0.815},{"a":1.11,"x":1.85,"y":0.805},{"a":1.11,"x":1.9,"y":0.812},{"a":1.11,"x":1.95,"y":0.8},{"a":1.11,"x":2,"y":0.805},{"a":1.11,"x":2.05,"y":0.798},{"a":1.11,"x":2.1,"y":0.81},{"a":1.11,"x":2.15,"y":0.795},{"a":1.11,"x":2.2,"y":0.805},{"a":1.11,"x":2.25,"y":0.79},{"a":1.11,"x":2.3,"y":0.8},{"a":1.11,"x":2.35,"y":0.788},{"a":1.11,"x":2.4,"y":0.798},{"a":1.11,"x":2.45,"y":0.785},{"a":1.11,"x":2.5,"y":0.795},{"a":1.11,"x":2.55,"y":0.782},{"a":1.11,"x":2.6,"y":0.792},{"a":1.11,"x":2.65,"y":0.78},{"a":1.11,"x":2.7,"y":0.79},{"a":1.11,"x":2.75,"y":0.775},{"a":1.11,"x":2.8,"y":0.788},{"a":1.11,"x":2.85,"y":0.778},{"a":1.11,"x":2.9,"y":0.795},{"a":1.11,"x":2.95,"y":0.772},{"a":1.11,"x":3,"y":0.805},
      {"a":1.01,"x":0,"y":0.998},{"a":1.01,"x":0.05,"y":0.995},{"a":1.01,"x":0.1,"y":0.985},{"a":1.01,"x":0.15,"y":0.965},{"a":1.01,"x":0.2,"y":0.945},{"a":1.01,"x":0.25,"y":0.93},{"a":1.01,"x":0.3,"y":0.925},{"a":1.01,"x":0.35,"y":0.91},{"a":1.01,"x":0.4,"y":0.905},{"a":1.01,"x":0.45,"y":0.915},{"a":1.01,"x":0.5,"y":0.895},{"a":1.01,"x":0.55,"y":0.9},{"a":1.01,"x":0.6,"y":0.885},{"a":1.01,"x":0.65,"y":0.86},{"a":1.01,"x":0.7,"y":0.875},{"a":1.01,"x":0.75,"y":0.865},{"a":1.01,"x":0.8,"y":0.862},{"a":1.01,"x":0.85,"y":0.868},{"a":1.01,"x":0.9,"y":0.85},{"a":1.01,"x":0.95,"y":0.84},{"a":1.01,"x":1,"y":0.835},{"a":1.01,"x":1.05,"y":0.83},{"a":1.01,"x":1.1,"y":0.838},{"a":1.01,"x":1.15,"y":0.825},{"a":1.01,"x":1.2,"y":0.828},{"a":1.01,"x":1.25,"y":0.82},{"a":1.01,"x":1.3,"y":0.825},{"a":1.01,"x":1.35,"y":0.805},{"a":1.01,"x":1.4,"y":0.818},{"a":1.01,"x":1.45,"y":0.81},{"a":1.01,"x":1.5,"y":0.815},{"a":1.01,"x":1.55,"y":0.808},{"a":1.01,"x":1.6,"y":0.812},{"a":1.01,"x":1.65,"y":0.8},{"a":1.01,"x":1.7,"y":0.808},{"a":1.01,"x":1.75,"y":0.795},{"a":1.01,"x":1.8,"y":0.782},{"a":1.01,"x":1.85,"y":0.8},{"a":1.01,"x":1.9,"y":0.795},{"a":1.01,"x":1.95,"y":0.805},{"a":1.01,"x":2,"y":0.798},{"a":1.01,"x":2.05,"y":0.79},{"a":1.01,"x":2.1,"y":0.8},{"a":1.01,"x":2.15,"y":0.792},{"a":1.01,"x":2.2,"y":0.785},{"a":1.01,"x":2.25,"y":0.795},{"a":1.01,"x":2.3,"y":0.788},{"a":1.01,"x":2.35,"y":0.798},{"a":1.01,"x":2.4,"y":0.783},{"a":1.01,"x":2.45,"y":0.79},{"a":1.01,"x":2.5,"y":0.8},{"a":1.01,"x":2.55,"y":0.782},{"a":1.01,"x":2.6,"y":0.79},{"a":1.01,"x":2.65,"y":0.775},{"a":1.01,"x":2.7,"y":0.788},{"a":1.01,"x":2.75,"y":0.782},{"a":1.01,"x":2.8,"y":0.792},{"a":1.01,"x":2.85,"y":0.778},{"a":1.01,"x":2.9,"y":0.79},{"a":1.01,"x":2.95,"y":0.785},{"a":1.01,"x":3,"y":0.78},
      {"a":0.51,"x":0,"y":0.965},{"a":0.51,"x":0.05,"y":0.96},{"a":0.51,"x":0.1,"y":0.95},{"a":0.51,"x":0.15,"y":0.925},{"a":0.51,"x":0.2,"y":0.915},{"a":0.51,"x":0.25,"y":0.89},{"a":0.51,"x":0.3,"y":0.895},{"a":0.51,"x":0.35,"y":0.875},{"a":0.51,"x":0.4,"y":0.862},{"a":0.51,"x":0.45,"y":0.855},{"a":0.51,"x":0.5,"y":0.84},{"a":0.51,"x":0.55,"y":0.845},{"a":0.51,"x":0.6,"y":0.82},{"a":0.51,"x":0.65,"y":0.815},{"a":0.51,"x":0.7,"y":0.805},{"a":0.51,"x":0.75,"y":0.8},{"a":0.51,"x":0.8,"y":0.79},{"a":0.51,"x":0.85,"y":0.795},{"a":0.51,"x":0.9,"y":0.775},{"a":0.51,"x":0.95,"y":0.765},{"a":0.51,"x":1,"y":0.76},{"a":0.51,"x":1.05,"y":0.755},{"a":0.51,"x":1.1,"y":0.765},{"a":0.51,"x":1.15,"y":0.745},{"a":0.51,"x":1.2,"y":0.75},{"a":0.51,"x":1.25,"y":0.74},{"a":0.51,"x":1.3,"y":0.755},{"a":0.51,"x":1.35,"y":0.745},{"a":0.51,"x":1.4,"y":0.735},{"a":0.51,"x":1.45,"y":0.75},{"a":0.51,"x":1.5,"y":0.74},{"a":0.51,"x":1.55,"y":0.765},{"a":0.51,"x":1.6,"y":0.738},{"a":0.51,"x":1.65,"y":0.745},{"a":0.51,"x":1.7,"y":0.728},{"a":0.51,"x":1.75,"y":0.742},{"a":0.51,"x":1.8,"y":0.732},{"a":0.51,"x":1.85,"y":0.738},{"a":0.51,"x":1.9,"y":0.725},{"a":0.51,"x":1.95,"y":0.72},{"a":0.51,"x":2,"y":0.735},{"a":0.51,"x":2.05,"y":0.722},{"a":0.51,"x":2.1,"y":0.73},{"a":0.51,"x":2.15,"y":0.7},{"a":0.51,"x":2.2,"y":0.725},{"a":0.51,"x":2.25,"y":0.715},{"a":0.51,"x":2.3,"y":0.728},{"a":0.51,"x":2.35,"y":0.72},{"a":0.51,"x":2.4,"y":0.712},{"a":0.51,"x":2.45,"y":0.722},{"a":0.51,"x":2.5,"y":0.705},{"a":0.51,"x":2.55,"y":0.718},{"a":0.51,"x":2.6,"y":0.71},{"a":0.51,"x":2.65,"y":0.72},{"a":0.51,"x":2.7,"y":0.705},{"a":0.51,"x":2.75,"y":0.722},{"a":0.51,"x":2.8,"y":0.71},{"a":0.51,"x":2.85,"y":0.715},{"a":0.51,"x":2.9,"y":0.72},{"a":0.51,"x":2.95,"y":0.712},{"a":0.51,"x":3,"y":0.715},
      {"a":0.11,"x":0,"y":0.888},{"a":0.11,"x":0.05,"y":0.875},{"a":0.11,"x":0.1,"y":0.855},{"a":0.11,"x":0.15,"y":0.83},{"a":0.11,"x":0.2,"y":0.8},{"a":0.11,"x":0.25,"y":0.785},{"a":0.11,"x":0.3,"y":0.765},{"a":0.11,"x":0.35,"y":0.745},{"a":0.11,"x":0.4,"y":0.76},{"a":0.11,"x":0.45,"y":0.75},{"a":0.11,"x":0.5,"y":0.728},{"a":0.11,"x":0.55,"y":0.715},{"a":0.11,"x":0.6,"y":0.72},{"a":0.11,"x":0.65,"y":0.7},{"a":0.11,"x":0.7,"y":0.705},{"a":0.11,"x":0.75,"y":0.69},{"a":0.11,"x":0.8,"y":0.695},{"a":0.11,"x":0.85,"y":0.68},{"a":0.11,"x":0.9,"y":0.678},{"a":0.11,"x":0.95,"y":0.668},{"a":0.11,"x":1,"y":0.672},{"a":0.11,"x":1.05,"y":0.66},{"a":0.11,"x":1.1,"y":0.665},{"a":0.11,"x":1.15,"y":0.65},{"a":0.11,"x":1.2,"y":0.658},{"a":0.11,"x":1.25,"y":0.645},{"a":0.11,"x":1.3,"y":0.66},{"a":0.11,"x":1.35,"y":0.642},{"a":0.11,"x":1.4,"y":0.655},{"a":0.11,"x":1.45,"y":0.648},{"a":0.11,"x":1.5,"y":0.638},{"a":0.11,"x":1.55,"y":0.652},{"a":0.11,"x":1.6,"y":0.645},{"a":0.11,"x":1.65,"y":0.658},{"a":0.11,"x":1.7,"y":0.64},{"a":0.11,"x":1.75,"y":0.65},{"a":0.11,"x":1.8,"y":0.655},{"a":0.11,"x":1.85,"y":0.642},{"a":0.11,"x":1.9,"y":0.66},{"a":0.11,"x":1.95,"y":0.668},{"a":0.11,"x":2,"y":0.64},{"a":0.11,"x":2.05,"y":0.652},{"a":0.11,"x":2.1,"y":0.638},{"a":0.11,"x":2.15,"y":0.645},{"a":0.11,"x":2.2,"y":0.63},{"a":0.11,"x":2.25,"y":0.648},{"a":0.11,"x":2.3,"y":0.635},{"a":0.11,"x":2.35,"y":0.64},{"a":0.11,"x":2.4,"y":0.628},{"a":0.11,"x":2.45,"y":0.638},{"a":0.11,"x":2.5,"y":0.622},{"a":0.11,"x":2.55,"y":0.635},{"a":0.11,"x":2.6,"y":0.625},{"a":0.11,"x":2.65,"y":0.632},{"a":0.11,"x":2.7,"y":0.62},{"a":0.11,"x":2.75,"y":0.628},{"a":0.11,"x":2.8,"y":0.635},{"a":0.11,"x":2.85,"y":0.615},{"a":0.11,"x":2.9,"y":0.625},{"a":0.11,"x":2.95,"y":0.6},{"a":0.11,"x":3,"y":0.625},
      {"a":0.01,"x":0,"y":0.878},{"a":0.01,"x":0.05,"y":0.86},{"a":0.01,"x":0.1,"y":0.845},{"a":0.01,"x":0.15,"y":0.815},{"a":0.01,"x":0.2,"y":0.78},{"a":0.01,"x":0.25,"y":0.75},{"a":0.01,"x":0.3,"y":0.72},{"a":0.01,"x":0.35,"y":0.7},{"a":0.01,"x":0.4,"y":0.71},{"a":0.01,"x":0.45,"y":0.695},{"a":0.01,"x":0.5,"y":0.705},{"a":0.01,"x":0.55,"y":0.69},{"a":0.01,"x":0.6,"y":0.7},{"a":0.01,"x":0.65,"y":0.675},{"a":0.01,"x":0.7,"y":0.685},{"a":0.01,"x":0.75,"y":0.66},{"a":0.01,"x":0.8,"y":0.668},{"a":0.01,"x":0.85,"y":0.655},{"a":0.01,"x":0.9,"y":0.66},{"a":0.01,"x":0.95,"y":0.648},{"a":0.01,"x":1,"y":0.652},{"a":0.01,"x":1.05,"y":0.63},{"a":0.01,"x":1.1,"y":0.64},{"a":0.01,"x":1.15,"y":0.625},{"a":0.01,"x":1.2,"y":0.635},{"a":0.01,"x":1.25,"y":0.628},{"a":0.01,"x":1.3,"y":0.632},{"a":0.01,"x":1.35,"y":0.62},{"a":0.01,"x":1.4,"y":0.63},{"a":0.01,"x":1.45,"y":0.625},{"a":0.01,"x":1.5,"y":0.618},{"a":0.01,"x":1.55,"y":0.628},{"a":0.01,"x":1.6,"y":0.622},{"a":0.01,"x":1.65,"y":0.612},{"a":0.01,"x":1.7,"y":0.62},{"a":0.01,"x":1.75,"y":0.605},{"a":0.01,"x":1.8,"y":0.618},{"a":0.01,"x":1.85,"y":0.61},{"a":0.01,"x":1.9,"y":0.615},{"a":0.01,"x":1.95,"y":0.62},{"a":0.01,"x":2,"y":0.605},{"a":0.01,"x":2.05,"y":0.612},{"a":0.01,"x":2.1,"y":0.6},{"a":0.01,"x":2.15,"y":0.608},{"a":0.01,"x":2.2,"y":0.61},{"a":0.01,"x":2.25,"y":0.6},{"a":0.01,"x":2.3,"y":0.605},{"a":0.01,"x":2.35,"y":0.598},{"a":0.01,"x":2.4,"y":0.608},{"a":0.01,"x":2.45,"y":0.595},{"a":0.01,"x":2.5,"y":0.602},{"a":0.01,"x":2.55,"y":0.59},{"a":0.01,"x":2.6,"y":0.6},{"a":0.01,"x":2.65,"y":0.596},{"a":0.01,"x":2.7,"y":0.585},{"a":0.01,"x":2.75,"y":0.598},{"a":0.01,"x":2.8,"y":0.59},{"a":0.01,"x":2.85,"y":0.6},{"a":0.01,"x":2.9,"y":0.592},{"a":0.01,"x":2.95,"y":0.598},{"a":0.01,"x":3,"y":0.59}
    ],
    "br": [
      {"a":0.01,"x":0.02,"y":0.875},{"a":0.01,"x":0.05,"y":0.868},{"a":0.01,"x":0.1,"y":0.885},{"a":0.01,"x":0.15,"y":0.9},{"a":0.01,"x":0.2,"y":0.91},{"a":0.01,"x":0.25,"y":0.918},{"a":0.01,"x":0.3,"y":0.93},{"a":0.01,"x":0.35,"y":0.935},{"a":0.01,"x":0.4,"y":0.945},{"a":0.01,"x":0.45,"y":0.952},{"a":0.01,"x":0.5,"y":0.96},{"a":0.01,"x":0.55,"y":0.965},{"a":0.01,"x":0.6,"y":0.97},{"a":0.01,"x":0.65,"y":0.975},{"a":0.01,"x":0.7,"y":0.978},{"a":0.01,"x":0.75,"y":0.982},{"a":0.01,"x":0.8,"y":0.986},{"a":0.01,"x":0.85,"y":0.99},{"a":0.01,"x":0.9,"y":0.992},{"a":0.01,"x":0.95,"y":0.994},{"a":0.01,"x":1,"y":0.996},{"a":0.01,"x":1.05,"y":0.997},{"a":0.01,"x":1.1,"y":0.998},{"a":0.01,"x":1.15,"y":0.999},{"a":0.01,"x":1.2,"y":0.999},{"a":0.01,"x":1.5,"y":1},{"a":0.01,"x":2,"y":1},{"a":0.01,"x":2.5,"y":1},{"a":0.01,"x":3,"y":1},
      {"a":0.02,"x":0.02,"y":0.865},{"a":0.02,"x":0.05,"y":0.872},{"a":0.02,"x":0.1,"y":0.88},{"a":0.02,"x":0.15,"y":0.895},{"a":0.02,"x":0.2,"y":0.905},{"a":0.02,"x":0.25,"y":0.915},{"a":0.02,"x":0.3,"y":0.925},{"a":0.02,"x":0.35,"y":0.938},{"a":0.02,"x":0.4,"y":0.942},{"a":0.02,"x":0.45,"y":0.95},{"a":0.02,"x":0.5,"y":0.955},{"a":0.02,"x":0.55,"y":0.962},{"a":0.02,"x":0.6,"y":0.968},{"a":0.02,"x":0.65,"y":0.972},{"a":0.02,"x":0.7,"y":0.976},{"a":0.02,"x":0.75,"y":0.98},{"a":0.02,"x":0.8,"y":0.984},{"a":0.02,"x":0.85,"y":0.987},{"a":0.02,"x":0.9,"y":0.99},{"a":0.02,"x":0.95,"y":0.992},{"a":0.02,"x":1,"y":0.994},{"a":0.02,"x":1.05,"y":0.996},{"a":0.02,"x":1.1,"y":0.997},{"a":0.02,"x":1.15,"y":0.998},{"a":0.02,"x":1.2,"y":0.999},{"a":0.02,"x":1.5,"y":1},{"a":0.02,"x":2,"y":1},{"a":0.02,"x":2.5,"y":1},{"a":0.02,"x":3,"y":1},
      {"a":0.11,"x":0.02,"y":0.815},{"a":0.11,"x":0.05,"y":0.812},{"a":0.11,"x":0.1,"y":0.825},{"a":0.11,"x":0.15,"y":0.835},{"a":0.11,"x":0.2,"y":0.842},{"a":0.11,"x":0.25,"y":0.838},{"a":0.11,"x":0.3,"y":0.855},{"a":0.11,"x":0.35,"y":0.87},{"a":0.11,"x":0.4,"y":0.885},{"a":0.11,"x":0.45,"y":0.88},{"a":0.11,"x":0.5,"y":0.9},{"a":0.11,"x":0.55,"y":0.895},{"a":0.11,"x":0.6,"y":0.915},{"a":0.11,"x":0.65,"y":0.91},{"a":0.11,"x":0.7,"y":0.93},{"a":0.11,"x":0.75,"y":0.925},{"a":0.11,"x":0.8,"y":0.945},{"a":0.11,"x":0.85,"y":0.94},{"a":0.11,"x":0.9,"y":0.958},{"a":0.11,"x":0.95,"y":0.95},{"a":0.11,"x":1,"y":0.965},{"a":0.11,"x":1.05,"y":0.972},{"a":0.11,"x":1.1,"y":0.968},{"a":0.11,"x":1.15,"y":0.98},{"a":0.11,"x":1.2,"y":0.978},{"a":0.11,"x":1.25,"y":0.985},{"a":0.11,"x":1.3,"y":0.99},{"a":0.11,"x":1.35,"y":0.986},{"a":0.11,"x":1.4,"y":0.995},{"a":0.11,"x":1.45,"y":0.998},{"a":0.11,"x":1.5,"y":0.997},{"a":0.11,"x":1.55,"y":1},{"a":0.11,"x":2,"y":1},{"a":0.11,"x":2.5,"y":1},{"a":0.11,"x":3,"y":1},
      {"a":0.51,"x":0.02,"y":0.68},{"a":0.51,"x":0.05,"y":0.72},{"a":0.51,"x":0.1,"y":0.715},{"a":0.51,"x":0.15,"y":0.73},{"a":0.51,"x":0.2,"y":0.74},{"a":0.51,"x":0.25,"y":0.748},{"a":0.51,"x":0.3,"y":0.755},{"a":0.51,"x":0.35,"y":0.76},{"a":0.51,"x":0.4,"y":0.775},{"a":0.51,"x":0.45,"y":0.79},{"a":0.51,"x":0.5,"y":0.8},{"a":0.51,"x":0.55,"y":0.81},{"a":0.51,"x":0.6,"y":0.83},{"a":0.51,"x":0.65,"y":0.845},{"a":0.51,"x":0.7,"y":0.86},{"a":0.51,"x":0.75,"y":0.87},{"a":0.51,"x":0.8,"y":0.855},{"a":0.51,"x":0.85,"y":0.878},{"a":0.51,"x":0.9,"y":0.89},{"a":0.51,"x":0.95,"y":0.87},{"a":0.51,"x":1,"y":0.895},{"a":0.51,"x":1.05,"y":0.885},{"a":0.51,"x":1.1,"y":0.9},{"a":0.51,"x":1.15,"y":0.89},{"a":0.51,"x":1.2,"y":0.905},{"a":0.51,"x":1.25,"y":0.895},{"a":0.51,"x":1.3,"y":0.915},{"a":0.51,"x":1.35,"y":0.905},{"a":0.51,"x":1.4,"y":0.93},{"a":0.51,"x":1.45,"y":0.92},{"a":0.51,"x":1.5,"y":0.94},{"a":0.51,"x":1.55,"y":0.93},{"a":0.51,"x":1.6,"y":0.945},{"a":0.51,"x":1.65,"y":0.935},{"a":0.51,"x":1.7,"y":0.94},{"a":0.51,"x":1.75,"y":0.93},{"a":0.51,"x":1.8,"y":0.945},{"a":0.51,"x":1.85,"y":0.95},{"a":0.51,"x":1.9,"y":0.94},{"a":0.51,"x":1.95,"y":0.955},{"a":0.51,"x":2,"y":0.945},{"a":0.51,"x":2.05,"y":0.96},{"a":0.51,"x":2.1,"y":0.948},{"a":0.51,"x":2.15,"y":0.955},{"a":0.51,"x":2.2,"y":0.945},{"a":0.51,"x":2.25,"y":0.962},{"a":0.51,"x":2.3,"y":0.97},{"a":0.51,"x":2.35,"y":0.958},{"a":0.51,"x":2.4,"y":0.978},{"a":0.51,"x":2.45,"y":0.96},{"a":0.51,"x":2.5,"y":0.965},{"a":0.51,"x":2.55,"y":0.972},{"a":0.51,"x":2.6,"y":0.958},{"a":0.51,"x":2.65,"y":0.97},{"a":0.51,"x":2.7,"y":0.962},{"a":0.51,"x":2.75,"y":0.975},{"a":0.51,"x":2.8,"y":0.965},{"a":0.51,"x":2.85,"y":0.972},{"a":0.51,"x":2.9,"y":0.985},{"a":0.51,"x":2.95,"y":0.97},{"a":0.51,"x":3,"y":0.975},
      {"a":1.01,"x":0.02,"y":0.655},{"a":1.01,"x":0.05,"y":0.67},{"a":1.01,"x":0.1,"y":0.665},{"a":1.01,"x":0.15,"y":0.68},{"a":1.01,"x":0.2,"y":0.678},{"a":1.01,"x":0.25,"y":0.7},{"a":1.01,"x":0.3,"y":0.71},{"a":1.01,"x":0.35,"y":0.72},{"a":1.01,"x":0.4,"y":0.73},{"a":1.01,"x":0.45,"y":0.735},{"a":1.01,"x":0.5,"y":0.745},{"a":1.01,"x":0.55,"y":0.755},{"a":1.01,"x":0.6,"y":0.77},{"a":1.01,"x":0.65,"y":0.775},{"a":1.01,"x":0.7,"y":0.79},{"a":1.01,"x":0.75,"y":0.8},{"a":1.01,"x":0.8,"y":0.795},{"a":1.01,"x":0.85,"y":0.81},{"a":1.01,"x":0.9,"y":0.82},{"a":1.01,"x":0.95,"y":0.815},{"a":1.01,"x":1,"y":0.83},{"a":1.01,"x":1.05,"y":0.835},{"a":1.01,"x":1.1,"y":0.84},{"a":1.01,"x":1.15,"y":0.845},{"a":1.01,"x":1.2,"y":0.85},{"a":1.01,"x":1.25,"y":0.858},{"a":1.01,"x":1.3,"y":0.86},{"a":1.01,"x":1.35,"y":0.865},{"a":1.01,"x":1.4,"y":0.87},{"a":1.01,"x":1.45,"y":0.878},{"a":1.01,"x":1.5,"y":0.875},{"a":1.01,"x":1.55,"y":0.885},{"a":1.01,"x":1.6,"y":0.88},{"a":1.01,"x":1.65,"y":0.89},{"a":1.01,"x":1.7,"y":0.885},{"a":1.01,"x":1.75,"y":0.895},{"a":1.01,"x":1.8,"y":0.9},{"a":1.01,"x":1.85,"y":0.895},{"a":1.01,"x":1.9,"y":0.905},{"a":1.01,"x":1.95,"y":0.9},{"a":1.01,"x":2,"y":0.905},{"a":1.01,"x":2.05,"y":0.91},{"a":1.01,"x":2.1,"y":0.905},{"a":1.01,"x":2.15,"y":0.915},{"a":1.01,"x":2.2,"y":0.92},{"a":1.01,"x":2.25,"y":0.915},{"a":1.01,"x":2.3,"y":0.925},{"a":1.01,"x":2.35,"y":0.92},{"a":1.01,"x":2.4,"y":0.928},{"a":1.01,"x":2.45,"y":0.925},{"a":1.01,"x":2.5,"y":0.932},{"a":1.01,"x":2.55,"y":0.93},{"a":1.01,"x":2.6,"y":0.935},{"a":1.01,"x":2.65,"y":0.928},{"a":1.01,"x":2.7,"y":0.94},{"a":1.01,"x":2.75,"y":0.935},{"a":1.01,"x":2.8,"y":0.945},{"a":1.01,"x":2.85,"y":0.94},{"a":1.01,"x":2.9,"y":0.95},{"a":1.01,"x":2.95,"y":0.945},{"a":1.01,"x":3,"y":0.935},
      {"a":1.11,"x":0.02,"y":0.65},{"a":1.11,"x":0.05,"y":0.66},{"a":1.11,"x":0.1,"y":0.645},{"a":1.11,"x":0.15,"y":0.67},{"a":1.11,"x":0.2,"y":0.68},{"a":1.11,"x":0.25,"y":0.69},{"a":1.11,"x":0.3,"y":0.705},{"a":1.11,"x":0.35,"y":0.72},{"a":1.11,"x":0.4,"y":0.725},{"a":1.11,"x":0.45,"y":0.74},{"a":1.11,"x":0.5,"y":0.75},{"a":1.11,"x":0.55,"y":0.76},{"a":1.11,"x":0.6,"y":0.765},{"a":1.11,"x":0.65,"y":0.78},{"a":1.11,"x":0.7,"y":0.785},{"a":1.11,"x":0.75,"y":0.795},{"a":1.11,"x":0.8,"y":0.805},{"a":1.11,"x":0.85,"y":0.8},{"a":1.11,"x":0.9,"y":0.815},{"a":1.11,"x":0.95,"y":0.825},{"a":1.11,"x":1,"y":0.82},{"a":1.11,"x":1.05,"y":0.835},{"a":1.11,"x":1.1,"y":0.842},{"a":1.11,"x":1.15,"y":0.838},{"a":1.11,"x":1.2,"y":0.855},{"a":1.11,"x":1.25,"y":0.85},{"a":1.11,"x":1.3,"y":0.865},{"a":1.11,"x":1.35,"y":0.86},{"a":1.11,"x":1.4,"y":0.875},{"a":1.11,"x":1.45,"y":0.87},{"a":1.11,"x":1.5,"y":0.88},{"a":1.11,"x":1.55,"y":0.872},{"a":1.11,"x":1.6,"y":0.888},{"a":1.11,"x":1.65,"y":0.882},{"a":1.11,"x":1.7,"y":0.895},{"a":1.11,"x":1.75,"y":0.89},{"a":1.11,"x":1.8,"y":0.9},{"a":1.11,"x":1.85,"y":0.898},{"a":1.11,"x":1.9,"y":0.895},{"a":1.11,"x":1.95,"y":0.908},{"a":1.11,"x":2,"y":0.9},{"a":1.11,"x":2.05,"y":0.912},{"a":1.11,"x":2.1,"y":0.905},{"a":1.11,"x":2.15,"y":0.918},{"a":1.11,"x":2.2,"y":0.912},{"a":1.11,"x":2.25,"y":0.92},{"a":1.11,"x":2.3,"y":0.915},{"a":1.11,"x":2.35,"y":0.925},{"a":1.11,"x":2.4,"y":0.918},{"a":1.11,"x":2.45,"y":0.93},{"a":1.11,"x":2.5,"y":0.922},{"a":1.11,"x":2.55,"y":0.935},{"a":1.11,"x":2.6,"y":0.928},{"a":1.11,"x":2.65,"y":0.93},{"a":1.11,"x":2.7,"y":0.94},{"a":1.11,"x":2.75,"y":0.932},{"a":1.11,"x":2.8,"y":0.938},{"a":1.11,"x":2.85,"y":0.93},{"a":1.11,"x":2.9,"y":0.955},{"a":1.11,"x":2.95,"y":0.94},{"a":1.11,"x":3,"y":0.93},
      {"a":1.51,"x":0.02,"y":0.62},{"a":1.51,"x":0.05,"y":0.64},{"a":1.51,"x":0.1,"y":0.63},{"a":1.51,"x":0.15,"y":0.65},{"a":1.51,"x":0.2,"y":0.66},{"a":1.51,"x":0.25,"y":0.67},{"a":1.51,"x":0.3,"y":0.68},{"a":1.51,"x":0.35,"y":0.695},{"a":1.51,"x":0.4,"y":0.7},{"a":1.51,"x":0.45,"y":0.715},{"a":1.51,"x":0.5,"y":0.725},{"a":1.51,"x":0.55,"y":0.73},{"a":1.51,"x":0.6,"y":0.745},{"a":1.51,"x":0.65,"y":0.75},{"a":1.51,"x":0.7,"y":0.765},{"a":1.51,"x":0.75,"y":0.77},{"a":1.51,"x":0.8,"y":0.775},{"a":1.51,"x":0.85,"y":0.785},{"a":1.51,"x":0.9,"y":0.795},{"a":1.51,"x":0.95,"y":0.8},{"a":1.51,"x":1,"y":0.81},{"a":1.51,"x":1.05,"y":0.815},{"a":1.51,"x":1.1,"y":0.82},{"a":1.51,"x":1.15,"y":0.828},{"a":1.51,"x":1.2,"y":0.835},{"a":1.51,"x":1.25,"y":0.84},{"a":1.51,"x":1.3,"y":0.845},{"a":1.51,"x":1.35,"y":0.852},{"a":1.51,"x":1.4,"y":0.855},{"a":1.51,"x":1.45,"y":0.862},{"a":1.51,"x":1.5,"y":0.858},{"a":1.51,"x":1.55,"y":0.868},{"a":1.51,"x":1.6,"y":0.872},{"a":1.51,"x":1.65,"y":0.868},{"a":1.51,"x":1.7,"y":0.878},{"a":1.51,"x":1.75,"y":0.875},{"a":1.51,"x":1.8,"y":0.88},{"a":1.51,"x":1.85,"y":0.878},{"a":1.51,"x":1.9,"y":0.888},{"a":1.51,"x":1.95,"y":0.885},{"a":1.51,"x":2,"y":0.895},{"a":1.51,"x":2.05,"y":0.89},{"a":1.51,"x":2.1,"y":0.9},{"a":1.51,"x":2.15,"y":0.895},{"a":1.51,"x":2.2,"y":0.905},{"a":1.51,"x":2.25,"y":0.898},{"a":1.51,"x":2.3,"y":0.908},{"a":1.51,"x":2.35,"y":0.9},{"a":1.51,"x":2.4,"y":0.912},{"a":1.51,"x":2.45,"y":0.905},{"a":1.51,"x":2.5,"y":0.915},{"a":1.51,"x":2.55,"y":0.91},{"a":1.51,"x":2.6,"y":0.918},{"a":1.51,"x":2.65,"y":0.912},{"a":1.51,"x":2.7,"y":0.92},{"a":1.51,"x":2.75,"y":0.915},{"a":1.51,"x":2.8,"y":0.925},{"a":1.51,"x":2.85,"y":0.918},{"a":1.51,"x":2.9,"y":0.93},{"a":1.51,"x":2.95,"y":0.915},{"a":1.51,"x":3,"y":0.925}
    ]
  },
  "concat": [
    {
      "title": {"text": "Dispersion Index – Strength – Sigma2", "frame": "bounds", "anchor": "start", "dx": 29},
      "width": 435, "height": 173,
      "layer": [
        {
          "data": {"name": "tl"},
          "mark": {"type": "line", "strokeWidth": 1.3},
          "encoding": {
            "x": {"field": "x", "type": "quantitative", "scale": {"domain": [-0.15, 3.15], "nice": false, "zero": false}, "axis": {"values": [0, 1, 2, 3], "format": ".0f", "title": "σ²"}},
            "y": {"field": "y", "type": "quantitative", "scale": {"domain": [-0.66, 30.3], "nice": false, "zero": false}, "axis": {"values": [0, 10, 20, 30], "format": ".0f", "title": "DI"}},
            "color": {"field": "a", "type": "quantitative", "scale": {"domain": [0.01, 1.51], "range": ["#D3D3D3", "#E2694C"], "interpolate": "lab"},
              "legend": {"title": ["", "α"], "orient": "none", "legendX": 158, "legendY": 460, "direction": "horizontal", "titleOrient": "left", "titleLineHeight": 12, "gradientLength": 92, "gradientThickness": 16, "gradientStrokeWidth": 0, "values": [0.5, 1, 1.5], "format": ".1f"}},
            "detail": {"field": "a", "type": "nominal"}
          }
        },
        {
          "data": {"name": "tls"},
          "mark": {"type": "line", "interpolate": "monotone", "strokeWidth": 1.2},
          "encoding": {
            "x": {"field": "x", "type": "quantitative"},
            "y": {"field": "y", "type": "quantitative"},
            "color": {"field": "a", "type": "quantitative"},
            "strokeDash": {"field": "k", "type": "nominal",
              "scale": {"domain": ["0.01", "0.11", "0.51", "1.01", "1.11", "1.51"], "range": [[1, 0], [2.5, 2.5], [6, 3, 1.5, 3], [5, 4], [1.5, 3], [1.5, 3, 6, 3]]},
              "legend": {"title": "α", "orient": "none", "legendX": 287, "legendY": 461, "columns": 3, "titleOrient": "left", "titlePadding": 4, "symbolType": "stroke", "symbolStrokeColor": "black", "symbolStrokeWidth": 1.2, "symbolSize": 260, "columnPadding": 9, "rowPadding": 5}}
          }
        },
        {
          "data": {"values": [{}]},
          "mark": {"type": "rule", "color": "black", "strokeDash": [5, 4], "strokeWidth": 1.1},
          "encoding": {"y": {"datum": 1}}
        }
      ]
    },
    {
      "title": {"text": "Dispersion Index – Strength – Alpha", "frame": "group", "anchor": "start"},
      "width": 435, "height": 173,
      "layer": [
        {
          "data": {"name": "tr"},
          "mark": {"type": "line", "strokeWidth": 1.3},
          "encoding": {
            "x": {"field": "x", "type": "quantitative", "scale": {"domain": [-0.15, 3.15], "nice": false, "zero": false}, "axis": {"values": [0, 1, 2, 3], "format": ".0f", "title": "α"}},
            "y": {"field": "y", "type": "quantitative", "scale": {"domain": [-4.3, 113.4], "nice": false, "zero": false}, "axis": {"values": [0, 30, 60, 90], "format": ".0f", "title": "DI"}},
            "color": {"field": "a", "type": "quantitative", "scale": {"domain": [0, 1.51], "range": ["#D3D3D3", "#E2694C"], "interpolate": "lab"},
              "legend": {"title": ["", "σ²"], "orient": "none", "legendX": 173, "legendY": 460, "direction": "horizontal", "titleOrient": "left", "titleLineHeight": 12, "gradientLength": 93, "gradientThickness": 16, "gradientStrokeWidth": 0, "values": [0, 0.5, 1, 1.5], "format": ".1f"}},
            "detail": {"field": "a", "type": "nominal"}
          }
        },
        {
          "data": {"name": "trs"},
          "mark": {"type": "line", "interpolate": "monotone", "strokeWidth": 1.2},
          "encoding": {
            "x": {"field": "x", "type": "quantitative"},
            "y": {"field": "y", "type": "quantitative"},
            "color": {"field": "a", "type": "quantitative"},
            "strokeDash": {"field": "k", "type": "nominal",
              "scale": {"domain": ["0.01", "0.11", "0.51", "1.01", "1.11", "1.51"], "range": [[1, 0], [2.5, 2.5], [6, 3, 1.5, 3], [5, 4], [1.5, 3], [1.5, 3, 6, 3]]},
              "legend": {"title": "σ²", "orient": "none", "legendX": -13, "legendY": 461, "columns": 3, "titleOrient": "left", "titlePadding": 4, "symbolType": "stroke", "symbolStrokeColor": "black", "symbolStrokeWidth": 1.2, "symbolSize": 260, "columnPadding": 9, "rowPadding": 5}}
          }
        },
        {
          "data": {"values": [{}]},
          "mark": {"type": "rule", "color": "black", "strokeDash": [5, 4], "strokeWidth": 1.1},
          "encoding": {"y": {"datum": 1}}
        }
      ]
    },
    {
      "title": {"text": "Weighted CC (Barrat) – Sigma2", "frame": "bounds", "anchor": "start", "dx": 29},
      "width": 435, "height": 173,
      "layer": [
        {
          "data": {"name": "bl"},
          "mark": {"type": "line", "strokeWidth": 1.3},
          "encoding": {
            "x": {"field": "x", "type": "quantitative", "scale": {"domain": [-0.15, 3.15], "nice": false, "zero": false}, "axis": {"values": [0, 1, 2, 3], "format": ".0f", "title": "σ²"}},
            "y": {"field": "y", "type": "quantitative", "scale": {"domain": [0.5555, 1.0133], "nice": false, "zero": false}, "axis": {"values": [0.6, 0.7, 0.8, 0.9, 1.0], "format": ".1f", "title": "CC"}},
            "color": {"field": "a", "type": "quantitative", "scale": {"domain": [0.01, 1.51], "range": ["#D3D3D3", "#E2694C"], "interpolate": "lab"}, "legend": null},
            "detail": {"field": "a", "type": "nominal"}
          }
        },
        {
          "data": {"values": [{}]},
          "mark": {"type": "rule", "color": "black", "strokeDash": [5, 4], "strokeWidth": 1.1},
          "encoding": {"y": {"datum": 1}}
        }
      ]
    },
    {
      "title": {"text": "Weighted CC (Barrat) – Alpha", "frame": "group", "anchor": "start"},
      "width": 435, "height": 173,
      "layer": [
        {
          "data": {"name": "br"},
          "mark": {"type": "line", "strokeWidth": 1.3},
          "encoding": {
            "x": {"field": "x", "type": "quantitative", "scale": {"domain": [-0.15, 3.15], "nice": false, "zero": false}, "axis": {"values": [0, 1, 2, 3], "format": ".0f", "title": "α"}},
            "y": {"field": "y", "type": "quantitative", "scale": {"domain": [0.603, 1.018], "nice": false, "zero": false}, "axis": {"values": [0.7, 0.8, 0.9, 1.0], "format": ".1f", "title": "CC"}},
            "color": {"field": "a", "type": "quantitative", "scale": {"domain": [0, 1.51], "range": ["#D3D3D3", "#E2694C"], "interpolate": "lab"}, "legend": null},
            "detail": {"field": "a", "type": "nominal"}
          }
        },
        {
          "data": {"values": [{}]},
          "mark": {"type": "rule", "color": "black", "strokeDash": [5, 4], "strokeWidth": 1.1},
          "encoding": {"y": {"datum": 1}}
        }
      ]
    }
  ]
}
